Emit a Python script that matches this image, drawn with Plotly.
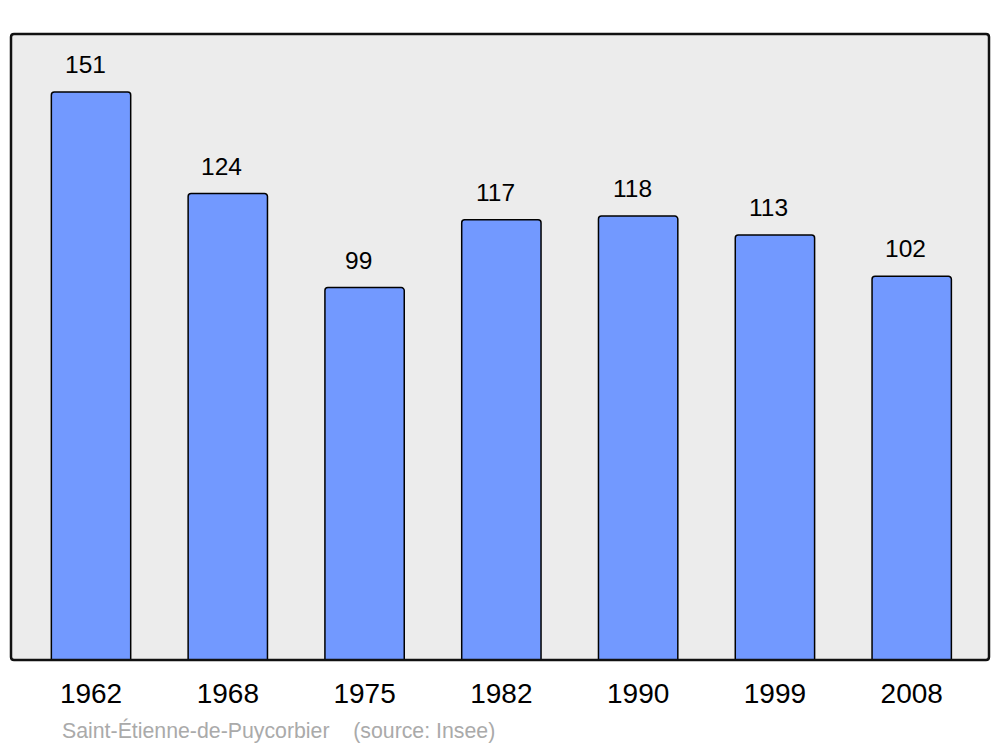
import plotly.graph_objects as go

years = ["1962", "1968", "1975", "1982", "1990", "1999", "2008"]
population = [151, 124, 99, 117, 118, 113, 102]
source_text = "Saint-Étienne-de-Puycorbier    (source: Insee)"

W, H = 1000, 747
L, R, T, B = 11, 11, 34, 87

fig = go.Figure()
fig.add_trace(go.Bar(
    x=years, y=population, width=0.58,
    marker=dict(color="#7299ff", line=dict(color="#000000", width=1.5), cornerradius=3),
    hoverinfo="x+y",
))

for i, v in enumerate(population):
    fig.add_annotation(x=i, y=v, text=str(v), showarrow=False, yanchor="bottom",
                       yshift=12, xshift=-6,
                       font=dict(size=24.5, color="#000000", family="Liberation Sans"))

fig.add_annotation(xref="paper", yref="paper", x=(60 - L) / (W - L - R), y=-(730 - (H - B)) / (H - T - B),
                   xanchor="left", yanchor="middle", text=source_text.replace("    ", "&nbsp;&nbsp;&nbsp;&nbsp;"),
                   showarrow=False, font=dict(size=21.3, color="#aaaaaa", family="Liberation Sans"))

# rounded frame
pw, ph = W - L - R, H - T - B
rx, ry = 3 / pw, 3 / ph
path = (f"M {rx},0 L {1-rx},0 Q 1,0 1,{ry} L 1,{1-ry} Q 1,1 {1-rx},1 "
        f"L {rx},1 Q 0,1 0,{1-ry} L 0,{ry} Q 0,0 {rx},0 Z")
fig.add_shape(type="path", xref="paper", yref="paper", path=path,
              line=dict(color="#111111", width=2.5), layer="above")

fig.update_layout(
    width=W, height=H,
    margin=dict(l=L, r=R, t=T, b=B, pad=0),
    paper_bgcolor="#ffffff", plot_bgcolor="#ececec",
    showlegend=False,
    xaxis=dict(type="category", range=[-0.585, 6.565], showgrid=False, zeroline=False, showline=False,
               ticks="", ticklabelstandoff=14,
               tickfont=dict(size=28, color="#000000", family="Liberation Sans")),
    yaxis=dict(range=[0, 166.4], showgrid=False, zeroline=False, showline=False,
               showticklabels=False, ticks=""),
    font=dict(family="Liberation Sans"),
)
fig.write_html("out.html", config={"displayModeBar": False},
               post_script="document.body.style.margin='0';")
